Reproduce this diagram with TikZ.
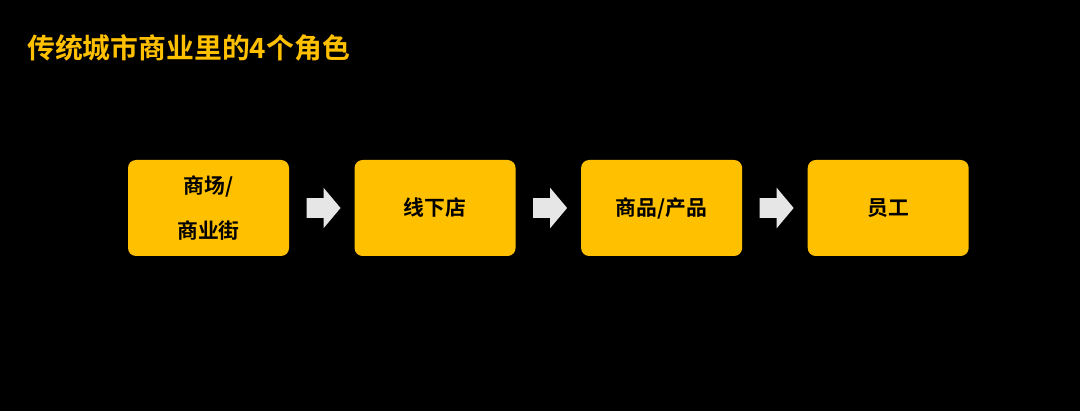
\documentclass[tikz,border=0pt]{standalone}
\usepackage{fontspec}
\usepackage{tikz}
\usetikzlibrary{shapes.arrows, positioning, calc}
\newfontfamily\cjkfont{Noto Sans CJK SC}[BoldFont={Noto Sans CJK SC Bold}]
\definecolor{amarilloRol}{HTML}{FFC000}
\definecolor{grisFlecha}{HTML}{E6E6E6}

\begin{document}
\begin{tikzpicture}[
        node distance=1.625cm,
        rol/.style={draw=none, fill=amarilloRol, rounded corners=0.2cm,
            minimum width=4.025cm, minimum height=2.4cm, align=center,
            font=\cjkfont\bfseries\fontsize{14.8pt}{32pt}\selectfont, text=black},
        flecha/.style={single arrow, draw=none, fill=grisFlecha, inner xsep=0pt,
            inner ysep=0.24cm, minimum height=0.85cm, single arrow head extend=0.26cm,
            single arrow tip angle=100, xshift=-0.06cm},
        titulo/.style={anchor=west, text=amarilloRol, inner sep=0pt,
            font=\cjkfont\bfseries\fontsize{19.8pt}{22pt}\selectfont}
    ]
        \fill[black] (0,0) rectangle (27,10.275);
        \useasboundingbox (0,0) rectangle (27,10.275);

        \node[titulo] (tit) at (0.675,9.08) {传统城市商业里的4个角色};

        \node[rol] (mall) at (5.2125,5.075) {商场/\\商业街};
        \node[rol, right=of mall] (tienda) {线下店};
        \node[rol, right=of tienda] (prod) {商品/产品};
        \node[rol, right=of prod] (staff) {员工};

        \node[flecha] (f1) at ($(mall.east)!0.5!(tienda.west)$) {};
        \node[flecha] (f2) at ($(tienda.east)!0.5!(prod.west)$) {};
        \node[flecha] (f3) at ($(prod.east)!0.5!(staff.west)$) {};
    \end{tikzpicture}
\end{document}
